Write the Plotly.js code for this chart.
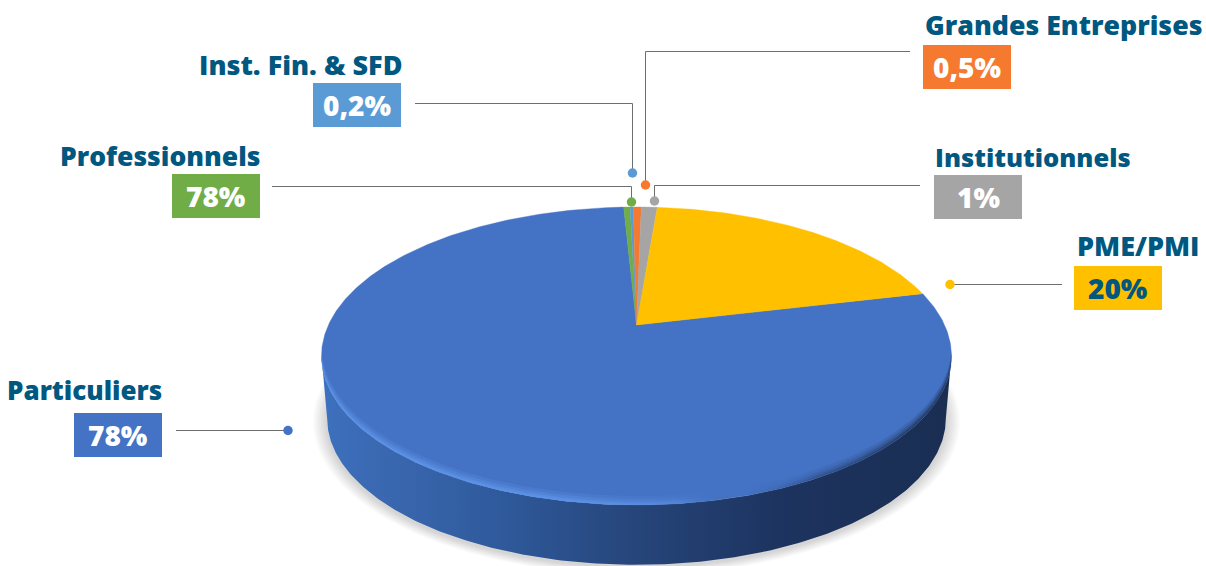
<!DOCTYPE html>
<html>
<head>
<meta charset="utf-8">
<script src="https://cdn.plot.ly/plotly-3.0.1.min.js"></script>
<style>html,body{margin:0;padding:0;background:#fff}#chart{width:1206px;height:566px}</style>
</head>
<body>
<div id="chart"></div>
<script>
// --- data, clockwise starting at the first slice
const categories = ["Particuliers", "Professionnels", "Inst. Fin. & SFD", "Grandes Entreprises", "Institutionnels", "PME/PMI"];
const sliceValues = [77.9, 0.4, 0.2, 0.5, 1, 20];
const valueLabels = ["78%", "78%", "0,2%", "0,5%", "1%", "20%"];
const sliceColors = ["#4472C4", "#70AD47", "#5B9BD5", "#F5792F", "#A5A5A5", "#FFC000"];
const valueTextColors = ["#fff", "#fff", "#fff", "#fff", "#fff", "#00577F"];
const startPercent = 21.3;

// --- label layout
const boxLeft = [74, 172, 313, 923, 934, 1074];
const boxTop = [413, 174, 83, 45, 175, 266];
const titleX = [164, 262, 404, 923, 933, 1201];
const titleY = [390, 156, 64, 24, 157, 245];
const titleAnchor = ["right", "right", "right", "left", "left", "right"];
const titleSize = [26, 26.5, 27, 26.7, 25.5, 27];
const leaderX = [[176, 288], [272, 631.5, 631.5], [415, 632.5, 632.5], [910, 645.5, 645.5], [920, 654.5, 654.5], [1062, 950]];
const leaderY = [[430.5, 430.5], [186.5, 186.5, 202], [103.5, 103.5, 173], [51.5, 51.5, 185], [185.5, 185.5, 201], [284.5, 284.5]];
const boxW = 88, boxH = 44;
const textColor = "#00577F";
const fontFamily = "'Open Sans', Lato, sans-serif";

// --- pie geometry (perspective projection of a disc)
const apexX = 636.5, apexY = 325, backR = 118, frontR = 180, halfW = 315, depth = 63;
const k = (frontR - backR) / (frontR + backR);
const B = backR * (1 + k);
const A = halfW * Math.sqrt(1 - k * k);
function project(pct, dy, shrink) {
  const t = pct / 100 * 2 * Math.PI, X = Math.sin(t), Y = Math.cos(t), w = 1 + k * Y, s = shrink || 1;
  return [apexX + s * A * X / w, apexY - s * B * Y / w + (dy || 0)];
}
function arc(from, to, dy, shrink) {
  const n = Math.max(2, Math.ceil(Math.abs(to - from) * 6)), pts = [];
  for (let i = 0; i <= n; i++) pts.push(project(from + (to - from) * i / n, dy, shrink));
  return pts;
}
// percent positions of the leftmost and rightmost points of the outline
const rightPct = 100 * (Math.PI - Math.acos(k)) / (2 * Math.PI);
const leftPct = 100 - rightPct;

function poly(pts, extra) {
  return Object.assign({
    type: "scatter", mode: "lines", x: pts.map(p => p[0]), y: pts.map(p => p[1]),
    fill: "toself", line: {width: 0}, hoverinfo: "skip", showlegend: false
  }, extra);
}

const traces = [];

// soft ground shadow
[14, 12, 10, 8, 6, 4, 2].forEach(g => {
  traces.push(poly(arc(0, 100, depth + 2, 0.982 + g / 315), {fillcolor: "rgba(0,0,0,0.022)"}));
});

// side wall
const frontTop = arc(rightPct, leftPct, 0);
const frontBottom = arc(leftPct, rightPct, depth, 0.982);
traces.push(poly(frontTop.concat(frontBottom), {
  fillgradient: {type: "horizontal", colorscale: [
    [0, "#3D70BE"], [0.1, "#3A68B0"], [0.28, "#2F5A9C"], [0.5, "#26457A"], [0.72, "#1D3460"], [1, "#1A2E52"]
  ]},
  fillcolor: "#26457A"
}));

// top face slices
let cum = startPercent;
sliceValues.forEach((v, i) => {
  const pts = [[apexX, apexY]].concat(arc(cum, cum + v, 0), [[apexX, apexY]]);
  traces.push(poly(pts, {fillcolor: sliceColors[i], line: {width: 0.4, color: sliceColors[i]}}));
  cum += v;
});

// bevel along the front edge
function crescent(th, a) {
  const outer = arc(rightPct, leftPct, 0);
  const inner = arc(leftPct, rightPct, -th);
  return poly(outer.concat(inner), {
    fillgradient: {type: "horizontal", colorscale: [
      [0, "rgba(95,150,235," + a + ")"], [0.4, "rgba(95,150,235," + a + ")"],
      [0.56, "rgba(95,150,235," + (a * 0.5) + ")"], [0.66, "rgba(60,100,170,0)"],
      [0.78, "rgba(28,48,85," + (a * 0.35) + ")"], [1, "rgba(28,48,85," + a + ")"]
    ]},
    fillcolor: "rgba(0,0,0,0)"
  });
}
[[9, 0.22], [6, 0.3], [3.5, 0.45], [1.5, 0.6]].forEach(c => traces.push(crescent(c[0], c[1])));

// leader lines and dots
leaderX.forEach((xs, i) => {
  traces.push({type: "scatter", mode: "lines", x: xs, y: leaderY[i],
    line: {color: "#6E6E6E", width: 1}, hoverinfo: "skip", showlegend: false});
  traces.push({type: "scatter", mode: "markers", x: [xs[xs.length - 1]], y: [leaderY[i][leaderY[i].length - 1]],
    marker: {color: sliceColors[i], size: 9.5}, hoverinfo: "skip", showlegend: false});
});

const shapes = categories.map((c, i) => ({
  type: "rect", xref: "x", yref: "y", x0: boxLeft[i], x1: boxLeft[i] + boxW, y0: boxTop[i], y1: boxTop[i] + boxH,
  fillcolor: sliceColors[i], line: {width: 0}, layer: "below"
}));

const annotations = [];
categories.forEach((c, i) => {
  annotations.push({x: titleX[i], y: titleY[i], xref: "x", yref: "y", text: c, showarrow: false,
    xanchor: titleAnchor[i], yanchor: "middle",
    font: {family: fontFamily, size: titleSize[i], color: textColor, weight: 800}});
  annotations.push({x: boxLeft[i] + boxW / 2, y: boxTop[i] + boxH / 2, xref: "x", yref: "y", text: valueLabels[i], showarrow: false,
    xanchor: "center", yanchor: "middle",
    font: {family: fontFamily, size: 28, color: valueTextColors[i], weight: 800}});
});

Plotly.newPlot("chart", traces, {
  width: 1206, height: 566, margin: {l: 0, r: 0, t: 0, b: 0},
  paper_bgcolor: "#fff", plot_bgcolor: "#fff", showlegend: false,
  xaxis: {range: [0, 1206], visible: false, fixedrange: true},
  yaxis: {range: [566, 0], visible: false, fixedrange: true},
  shapes, annotations
}, {displayModeBar: false, staticPlot: true});
</script>
</body>
</html>
